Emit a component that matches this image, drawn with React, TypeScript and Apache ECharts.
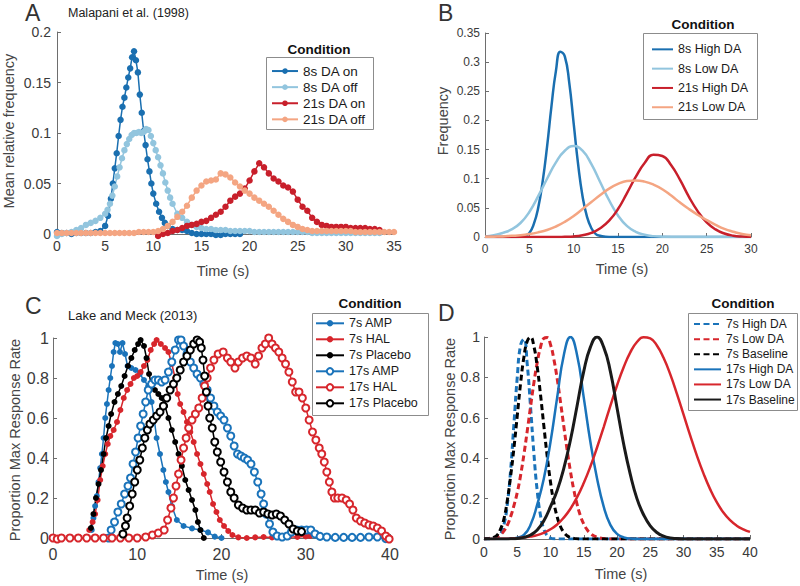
import React, { useEffect, useRef } from "react";
import * as echarts from "echarts";

// ---------- Panel A : Malapani et al. (1998) ----------
const aOn8T = [0,0.5,1,1.5,2,2.5,3,3.5,4,4.5,5,5.3,5.6,5.8,6,6.2,6.4,6.6,6.8,7,7.2,7.4,7.6,7.8,8,8.2,8.4,8.6,8.8,9,9.2,9.4,9.6,9.8,10,10.3,10.6,10.9,11.2,11.5,12,12.5,13,13.5,14,14.5,15,15.5,16,16.5,17,17.5,18,18.5,19];
const aOn8V = [0.002,0.001,0.001,0,0.001,0.001,0.001,0.001,0.002,0.003,0.008,0.018,0.035,0.05,0.065,0.08,0.097,0.113,0.126,0.135,0.145,0.155,0.164,0.175,0.181,0.172,0.16,0.138,0.12,0.102,0.088,0.074,0.062,0.05,0.04,0.03,0.022,0.016,0.011,0.008,0.005,0.004,0.004,0.003,0.001,0,0,0,0,-0.001,-0.001,0,0,0,0];
const aOff8T = [0,0.5,1,1.5,2,2.5,3,3.5,4,4.5,5,5.25,5.5,5.75,6,6.25,6.5,6.75,7,7.25,7.5,7.75,8,8.25,8.5,8.75,9,9.25,9.5,9.75,10,10.25,10.5,10.75,11,11.25,11.5,11.75,12,12.5,13,13.5,14,14.5,15,15.5,16,16.5,17,17.5,18,18.5,19,19.5,20,20.5,21,21.5,22,22.5,23,23.5,24,24.5,25,25.5,26,26.5,27,27.5,28,28.5,29,29.5,30,30.5,31,31.5,32,32.5,33,33.5];
const aOff8V = [-0.002,0,0.001,0.002,0.004,0.006,0.009,0.011,0.013,0.016,0.02,0.024,0.03,0.038,0.047,0.057,0.066,0.075,0.083,0.089,0.094,0.098,0.1,0.1,0.101,0.1,0.101,0.104,0.103,0.097,0.09,0.083,0.076,0.068,0.06,0.051,0.043,0.036,0.03,0.02,0.016,0.012,0.009,0.007,0.006,0.005,0.005,0.004,0.004,0.004,0.003,0.003,0.003,0.003,0.003,0.002,0.002,0.002,0.002,0.002,0.002,0.002,0.002,0.002,0.002,0.002,0.002,0.001,0.001,0.001,0.001,0.001,0.001,0.001,0.001,0.001,0.001,0.001,0.001,0.001,0.001,0.001,0.001];
const aOn21T = [10.5,11,11.5,12,12.5,13,13.5,14,14.5,15,15.5,16,16.5,17,17.5,18,18.5,19,19.5,20,20.5,21,21.5,22,22.5,23,23.5,24,24.5,25,25.5,26,26.5,27,27.5,28,28.5,29,29.5,30,30.5,31,31.5,32,32.5,33,33.5];
const aOn21V = [-0.002,0,0.001,0.003,0.004,0.006,0.008,0.009,0.01,0.012,0.013,0.016,0.019,0.022,0.027,0.033,0.037,0.04,0.045,0.053,0.062,0.07,0.066,0.06,0.055,0.052,0.048,0.046,0.042,0.034,0.027,0.023,0.016,0.012,0.009,0.008,0.007,0.007,0.007,0.007,0.006,0.006,0.006,0.006,0.005,0.005,0.004];
const aOff21T = [0,0.5,1,1.5,2,2.5,3,3.5,4,4.5,5,5.5,6,6.5,7,7.5,8,8.5,9,9.5,10,10.5,11,11.5,12,12.5,13,13.5,14,14.5,15,15.5,16,16.5,17,17.5,18,18.5,19,19.5,20,20.5,21,21.5,22,22.5,23,23.5,24,24.5,25,25.5,26,26.5,27,27.5,28,28.5,29,29.5,30,30.5,31,31.5,32,32.5,33,33.5,34,34.5,35];
const aOff21V = [0.001,0.001,0.001,0.001,0.001,0.001,0.001,0.001,0.001,0.001,0.001,0.001,0.001,0.001,0.001,0.001,0.001,0.002,0.002,0.002,0.002,0.003,0.005,0.008,0.012,0.017,0.022,0.028,0.036,0.043,0.048,0.052,0.053,0.054,0.06,0.059,0.056,0.051,0.047,0.043,0.04,0.036,0.033,0.03,0.027,0.023,0.019,0.015,0.012,0.009,0.007,0.005,0.004,0.003,0.003,0.003,0.003,0.003,0.003,0.003,0.003,0.003,0.002,0.002,0.002,0.002,0.002,0.002,0.002,0.002,0.002];

// ---------- Panel B ----------
const bHigh8T = [0,1,2,3,4,4.5,5,5.5,6,6.5,7,7.5,8,8.5,9,9.5,10,10.5,11,11.5,12,12.5,13,14,15,16,17,18,19,20,22,24,26,28,30];
const bHigh8V = [0,0,0,0,0.0005,0.002,0.007,0.022,0.05,0.095,0.155,0.225,0.285,0.318,0.31,0.265,0.195,0.125,0.07,0.035,0.015,0.005,0.002,0,0,0,0,0,0,0,0,0,0,0,0];
const bT = [0,1,2,3,4,5,6,7,8,9,10,11,12,13,14,15,16,17,18,19,20,21,22,23,24,25,26,27,28,29,30];
const bLow8V = [0.001,0.003,0.007,0.013,0.024,0.043,0.07,0.1,0.128,0.148,0.156,0.148,0.125,0.094,0.063,0.037,0.019,0.009,0.004,0.0015,0.0005,0,0,0,0,0,0,0,0,0,0];
const bHigh21V = [0,0,0,0,0,0,0,0,0,0.0004,0.001,0.003,0.007,0.015,0.028,0.048,0.075,0.103,0.127,0.141,0.139,0.123,0.098,0.069,0.044,0.025,0.013,0.006,0.0023,0.0008,0.0003];
const bLow21V = [0.0003,0.0006,0.001,0.002,0.003,0.005,0.008,0.012,0.018,0.026,0.036,0.048,0.06,0.072,0.083,0.091,0.096,0.097,0.095,0.09,0.082,0.071,0.059,0.048,0.038,0.029,0.021,0.014,0.009,0.005,0.003];

// ---------- Panel C : Lake and Meck (2013) ----------
const c7AmpT = [4.6,4.8,5.0,5.2,5.4,5.6,5.8,6.0,6.2,6.4,6.6,6.8,7.0,7.2,7.4,7.7,7.95,8.25,8.55,8.85,9.3,9.8,10.3,10.8,11.3,11.7,12.0,12.3,12.7,13.1,13.4,13.7,14.1,14.7,15.5,16.5,17.5,18.4,19.2,20.0];
const c7AmpV = [0.04,0.1,0.16,0.21,0.28,0.35,0.42,0.5,0.6,0.67,0.74,0.8,0.86,0.93,0.975,0.97,0.93,0.975,0.92,0.86,0.85,0.84,0.82,0.79,0.76,0.68,0.6,0.5,0.42,0.34,0.28,0.23,0.16,0.09,0.06,0.048,0.04,0.028,0.007,0.0];
const c7HalT = [4.3,4.7,5.0,5.3,5.6,5.9,6.2,6.5,6.8,7.2,7.6,8.0,8.4,8.8,9.2,9.6,10.0,10.4,10.8,11.2,11.6,12.0,12.3,12.8,13.3,13.7,14.1,14.5,14.8,15.1,15.5,15.9,16.3,16.7,17.1,17.5,17.9,18.3,18.6,19.0,19.4,19.8,20.3,20.8,21.3,22.0,23.0,24.0,25.0,26.0,27.0,28.0,29.0,30.0,30.5];
const c7HalV = [0.04,0.08,0.12,0.19,0.29,0.36,0.42,0.47,0.51,0.54,0.58,0.64,0.7,0.74,0.77,0.8,0.81,0.83,0.86,0.89,0.94,0.97,0.99,0.97,0.95,0.93,0.87,0.8,0.72,0.67,0.63,0.58,0.53,0.48,0.42,0.37,0.32,0.27,0.23,0.17,0.13,0.09,0.06,0.035,0.015,0.003,0.0,0.003,0.005,0.003,0.003,0.005,0.005,0.008,0.01];
const c7PlaT = [4.5,4.8,5.1,5.4,5.7,6.0,6.3,6.6,6.9,7.3,7.7,8.1,8.5,8.9,9.3,9.7,10.1,10.4,10.8,11.1,11.4,11.7,12.1,12.5,12.9,13.3,13.7,14.1,14.5,14.9,15.3,15.7,16.1,16.5,16.9,17.2,17.5,17.9];
const c7PlaV = [0.05,0.12,0.2,0.27,0.34,0.42,0.5,0.56,0.62,0.68,0.72,0.76,0.81,0.86,0.9,0.94,0.97,0.99,0.96,0.9,0.82,0.76,0.74,0.72,0.7,0.66,0.6,0.54,0.48,0.42,0.36,0.29,0.24,0.19,0.14,0.08,0.04,0.0];
const c17AmpT = [6.6,6.9,7.3,7.7,8.1,8.5,8.9,9.2,9.5,9.8,10.1,10.4,10.7,11.0,11.3,11.7,12.1,12.5,12.9,13.3,13.7,14.1,14.5,14.9,15.2,15.5,15.9,16.3,16.7,17.1,17.5,17.9,18.3,18.7,19.1,19.5,19.9,20.3,20.7,21.1,21.5,21.9,22.3,22.7,23.1,23.5,23.9,24.3,24.7,25.0,25.3,25.7,26.1,26.6,27.2,27.8,28.3,28.9,29.5,30.1,30.6,31.1,31.7,32.5,33.5,34.5,35.5,36.5,37.5,38.5,39.5];
const c17AmpV = [0.0,0.04,0.08,0.13,0.17,0.22,0.26,0.3,0.37,0.43,0.5,0.56,0.62,0.68,0.74,0.77,0.79,0.79,0.78,0.79,0.83,0.88,0.94,0.99,0.99,0.96,0.92,0.88,0.85,0.82,0.8,0.77,0.74,0.7,0.66,0.63,0.61,0.59,0.55,0.51,0.46,0.42,0.41,0.4,0.39,0.37,0.33,0.28,0.22,0.17,0.12,0.07,0.03,0.01,0.005,0.01,0.03,0.04,0.04,0.04,0.04,0.02,0.008,0.005,0.003,0.003,0.003,0.003,0.005,0.005,-0.003];
const c17HalT = [0,0.5,1,2,3,4,5,6,7,8,9,10,11,11.8,12.5,13.2,13.6,14.0,14.3,14.6,14.9,15.2,15.5,15.8,16.1,16.5,16.9,17.3,17.7,18.0,18.3,18.7,19.1,19.6,20.2,20.7,21.1,21.6,22.0,22.5,23.0,23.5,24.0,24.4,24.8,25.2,25.6,26.0,26.4,26.8,27.2,27.6,28.0,28.4,28.8,29.2,29.6,30.0,30.4,30.8,31.2,31.6,31.9,32.2,32.5,32.8,33.1,33.4,33.8,34.3,34.8,35.2,35.6,36.0,36.5,37.0,37.5,38.0,38.5,39.0,39.5,39.9];
const c17HalV = [0,-0.005,0,0,0,0,0,0,0,0,0,0,0.005,0.015,0.025,0.04,0.09,0.15,0.2,0.26,0.32,0.39,0.45,0.5,0.55,0.59,0.62,0.65,0.7,0.76,0.8,0.85,0.89,0.92,0.93,0.9,0.88,0.85,0.88,0.9,0.91,0.9,0.87,0.91,0.95,0.97,1.0,0.97,0.95,0.93,0.9,0.87,0.83,0.78,0.73,0.73,0.7,0.65,0.59,0.53,0.49,0.45,0.42,0.38,0.33,0.28,0.23,0.2,0.2,0.2,0.19,0.17,0.14,0.1,0.085,0.075,0.065,0.06,0.05,0.035,0.01,-0.005];
const c17PlaT = [8.3,8.6,8.8,9.1,9.4,9.7,10.0,10.3,10.6,10.9,11.2,11.5,11.9,12.3,12.7,13.1,13.5,13.9,14.3,14.7,15.1,15.5,15.9,16.3,16.7,17.1,17.4,17.6,17.8,18.0,18.2,18.4,18.6,18.9,19.2,19.5,19.9,20.3,20.7,21.1,21.5,22.0,22.5,23.0,23.5,24.0,24.5,25.0,25.5,26.0,26.5,27.0,27.5,28.0,28.5,29.0,29.5];
const c17PlaV = [0.02,0.06,0.1,0.16,0.22,0.28,0.34,0.39,0.45,0.5,0.54,0.57,0.59,0.61,0.63,0.66,0.7,0.74,0.77,0.8,0.84,0.88,0.91,0.94,0.97,0.99,0.98,0.95,0.89,0.81,0.73,0.66,0.6,0.55,0.48,0.43,0.38,0.33,0.28,0.23,0.2,0.165,0.15,0.14,0.14,0.14,0.125,0.13,0.12,0.115,0.12,0.11,0.09,0.07,0.045,0.035,0.032];

// ---------- Panel D ----------
const dT7 = [0,0.5,1,1.5,2,2.5,3,3.5,4,4.5,5,5.5,6,6.5,7,7.5,8,8.5,9,9.5,10,10.5,11,11.5,12,12.5,13,13.5,14,14.5,15,15.5,16,16.5,17,17.5,18,18.5,19,19.5,20,22,24,26,28,30,32,34,36,38,40];
const d7HighV = [0,0,0.001,0.003,0.008,0.025,0.07,0.17,0.34,0.57,0.8,0.96,0.99,0.865,0.653,0.425,0.239,0.116,0.048,0.017,0.005,0.001,0,0,0,0,0,0,0,0,0,0,0,0,0,0,0,0,0,0,0,0,0,0,0,0,0,0,0,0,0];
const d7LowV = [0.001,0.002,0.004,0.007,0.012,0.022,0.04,0.068,0.11,0.165,0.23,0.315,0.418,0.534,0.655,0.772,0.873,0.95,0.993,0.997,0.962,0.891,0.794,0.679,0.558,0.441,0.335,0.244,0.171,0.115,0.074,0.046,0.028,0.016,0.009,0.005,0.002,0.001,0,0,0,0,0,0,0,0,0,0,0,0,0];
const d7BaseV = [0.001,0.002,0.003,0.008,0.02,0.05,0.1,0.19,0.31,0.45,0.61,0.77,0.9,0.979,0.999,0.954,0.853,0.714,0.56,0.411,0.282,0.182,0.11,0.062,0.033,0.016,0.007,0.003,0.001,0,0,0,0,0,0,0,0,0,0,0,0,0,0,0,0,0,0,0,0,0,0];
const dT17 = [0,1,2,3,4,5,6,7,8,9,10,11,12,13,14,15,16,17,18,19,20,21,22,23,24,25,26,27,28,29,30,31,32,33,34,35,36,37,38,39,40];
const d17HighV = [0,0,0,0,0.002,0.006,0.02,0.07,0.17,0.3,0.48,0.7,0.91,1,0.91,0.7,0.48,0.3,0.16,0.07,0.025,0.008,0.002,0,0,0,0,0,0,0,0,0,0,0,0,0,0,0,0,0,0];
const d17LowV = [0,0,0.001,0.001,0.002,0.004,0.007,0.012,0.019,0.031,0.048,0.072,0.106,0.15,0.207,0.277,0.359,0.453,0.554,0.659,0.76,0.85,0.924,0.975,0.999,0.993,0.958,0.897,0.816,0.72,0.617,0.513,0.414,0.325,0.247,0.182,0.131,0.093,0.066,0.048,0.035];
const d17BaseV = [0,0,0,0,0.001,0.003,0.008,0.02,0.045,0.09,0.16,0.24,0.35,0.49,0.66,0.83,0.95,1,0.95,0.83,0.65,0.47,0.32,0.2,0.12,0.065,0.032,0.014,0.005,0.002,0,0,0,0,0,0,0,0,0,0,0];

// ---------- styling ----------
const FONT = '"Liberation Sans", Arial, Helvetica, sans-serif';
const TXT = "#3a3a3a";
const NAME = "#454545";
const AX = "#6e6e6e";
const A_DBLUE = "#1a6fb0";
const A_LBLUE = "#92c5de";
const A_RED = "#c81f2b";
const A_SALMON = "#f4a582";
const C_BLUE = "#1a73ba";
const C_RED = "#d7262c";
const C_BLACK = "#000000";

const zip = (t: number[], v: number[]) => t.map((x, i) => [x, v[i]]);

const axisCommon = (fs: number, margin: number) => ({
  axisLine: { show: true, onZero: false, lineStyle: { color: AX, width: 1 } },
  axisTick: { show: true, inside: true, length: 4, lineStyle: { color: AX } },
  axisLabel: { fontSize: fs, color: TXT, fontFamily: FONT, margin, fontWeight: "normal" },
  splitLine: { show: false },
});
const mkX = (gi: number, max: number, interval: number, fs: number, margin: number) => ({
  type: "value", gridIndex: gi, min: 0, max, interval, ...axisCommon(fs, margin),
});
const mkY = (gi: number, max: number, interval: number, fs: number, margin: number) => ({
  type: "value", gridIndex: gi, min: 0, max, interval, ...axisCommon(fs, margin),
});

const dotLine = (name: string, t: number[], v: number[], color: string, gi: number, sym: string, size: number) => ({
  type: "line", name, xAxisIndex: gi, yAxisIndex: gi, data: zip(t, v),
  symbol: sym, symbolSize: size, showSymbol: true, clip: false,
  lineStyle: { color, width: 1.5 },
  itemStyle: { color, borderColor: color, borderWidth: sym === "emptyCircle" ? 1.5 : 0 },
});
const curve = (name: string, t: number[], v: number[], color: string, gi: number, width: number, dashed: boolean) => ({
  type: "line", name, xAxisIndex: gi, yAxisIndex: gi, data: zip(t, v),
  symbol: "none", smooth: 0.5, clip: true,
  lineStyle: { color, width, type: dashed ? [6, 3.5] : "solid", cap: "butt" },
  itemStyle: { color },
});

const legendBase = (data: string[], left: number, top: number, iw: number, ih: number, fs: number, lh: number, extra: any = {}) => ({
  data, orient: "vertical", left, top, itemWidth: iw, itemHeight: ih, itemGap: 0,
  padding: 0, selectedMode: false, z: 20,
  textStyle: { fontSize: fs, lineHeight: lh, color: "#1a1a1a", fontFamily: FONT },
  ...extra,
});

const txt = (text: string, x: number, y: number, size: number, align: string, weight = "normal", fill = "#222", rotation = 0) => ({
  type: "text", x, y, z: 30, rotation,
  style: {
    text, fill, font: `${weight} ${size}px ${FONT}`,
    align, textAlign: align, verticalAlign: "middle", textVerticalAlign: "middle",
  },
});
const box = (x: number, y: number, w: number, h: number) => ({
  type: "rect", z: 10,
  shape: { x: x + 0.5, y: y + 0.5, width: w, height: h },
  style: { fill: "#ffffff", stroke: "#8c8c8c", lineWidth: 1 },
});

const R90 = Math.PI / 2;

export default function App() {
  const ref = useRef<HTMLDivElement>(null);
  useEffect(() => {
    if (!ref.current) return;
    const chart = echarts.init(ref.current, undefined, { renderer: "svg" });
    const option: any = {
      animation: false,
      backgroundColor: "#ffffff",
      textStyle: { fontFamily: FONT },
      grid: [
        { left: 57, top: 32, width: 337, height: 202 },
        { left: 485, top: 33, width: 266, height: 204 },
        { left: 53, top: 338, width: 337, height: 200 },
        { left: 484, top: 337, width: 266, height: 202 },
      ],
      xAxis: [
        mkX(0, 35, 5, 14, 5),
        mkX(1, 30, 5, 12, 6),
        mkX(2, 40, 10, 16, 8),
        mkX(3, 40, 5, 14, 6),
      ],
      yAxis: [
        mkY(0, 0.2, 0.05, 14, 6),
        mkY(1, 0.35, 0.05, 12, 5),
        mkY(2, 1, 0.2, 16, 4),
        mkY(3, 1, 0.2, 14, 4),
      ],
      legend: [
        legendBase(["8s DA on", "8s DA off", "21s DA on", "21s DA off"], 271, 63, 26, 7, 13.5, 16.1),
        legendBase(["8s High DA", "8s Low DA", "21s High DA", "21s Low DA"], 651, 39.7, 21, 8, 12.5, 19.3, { itemStyle: { opacity: 0 } }),
        legendBase(["7s AMP", "7s HAL", "7s Placebo", "17s AMP", "17s HAL", "17s Placebo"], 315, 315.3, 28, 8, 12.5, 16),
        legendBase(["7s High DA", "7s Low DA", "7s Baseline", "17s High DA", "17s Low DA", "17s Baseline"], 693, 316.5, 27, 8, 12, 15.1, { itemStyle: { opacity: 0 } }),
      ],
      graphic: [
        box(266, 57, 107, 72),
        box(643, 33, 114, 86),
        box(312, 313, 116, 102),
        box(688, 313, 109, 97),
        txt("A", 25, 12.5, 23, "left", "normal", "#333"),
        txt("B", 438, 12.5, 23, "left", "normal", "#333"),
        txt("C", 25, 306, 23, "left", "normal", "#333"),
        txt("D", 438, 313, 23, "left", "normal", "#333"),
        txt("Malapani et al. (1998)", 68, 13, 12.5, "left"),
        txt("Lake and Meck (2013)", 68, 315, 13, "left"),
        txt("Condition", 319, 49, 13.5, "center", "bold", "#111"),
        txt("Condition", 703, 24, 13.5, "center", "bold", "#111"),
        txt("Condition", 370, 303, 13.5, "center", "bold", "#111"),
        txt("Condition", 743, 303, 13.5, "center", "bold", "#111"),
        // axis titles
        txt("Time (s)", 223, 270.5, 14.5, "center", "normal", NAME),
        txt("Time (s)", 622, 268.5, 14.5, "center", "normal", NAME),
        txt("Time (s)", 222, 575, 14.5, "center", "normal", NAME),
        txt("Time (s)", 621, 573.5, 14.5, "center", "normal", NAME),
        txt("Mean relative frequency", 8.5, 131, 14.5, "center", "normal", NAME, R90),
        txt("Frequency", 443, 121, 14.5, "center", "normal", NAME, R90),
        txt("Proportion Max Response Rate", 15, 440, 14.5, "center", "normal", NAME, R90),
        txt("Proportion Max Response Rate", 450, 439, 14.5, "center", "normal", NAME, R90),
      ],
      series: [
        dotLine("8s DA on", aOn8T, aOn8V, A_DBLUE, 0, "circle", 6.5),
        dotLine("8s DA off", aOff8T, aOff8V, A_LBLUE, 0, "circle", 6.5),
        dotLine("21s DA on", aOn21T, aOn21V, A_RED, 0, "circle", 6.5),
        dotLine("21s DA off", aOff21T, aOff21V, A_SALMON, 0, "circle", 6.5),

        curve("8s High DA", bHigh8T, bHigh8V, A_DBLUE, 1, 2.5, false),
        curve("8s Low DA", bT, bLow8V, A_LBLUE, 1, 2.5, false),
        curve("21s High DA", bT, bHigh21V, A_RED, 1, 2.5, false),
        curve("21s Low DA", bT, bLow21V, A_SALMON, 1, 2.5, false),

        dotLine("7s AMP", c7AmpT, c7AmpV, C_BLUE, 2, "circle", 6),
        dotLine("7s HAL", c7HalT, c7HalV, C_RED, 2, "circle", 6),
        dotLine("7s Placebo", c7PlaT, c7PlaV, C_BLACK, 2, "circle", 6),
        dotLine("17s AMP", c17AmpT, c17AmpV, C_BLUE, 2, "emptyCircle", 7),
        dotLine("17s HAL", c17HalT, c17HalV, C_RED, 2, "emptyCircle", 7),
        dotLine("17s Placebo", c17PlaT, c17PlaV, C_BLACK, 2, "emptyCircle", 7),

        curve("7s High DA", dT7, d7HighV, C_BLUE, 3, 3, true),
        curve("7s Low DA", dT7, d7LowV, C_RED, 3, 3, true),
        curve("7s Baseline", dT7, d7BaseV, C_BLACK, 3, 3, true),
        curve("17s High DA", dT17, d17HighV, C_BLUE, 3, 2.5, false),
        curve("17s Low DA", dT17, d17LowV, C_RED, 3, 2.5, false),
        curve("17s Baseline", dT17, d17BaseV, "#1a1a1a", 3, 3, false),
      ],
    };
    chart.setOption(option);
    return () => chart.dispose();
  }, []);
  return (
    <div
      ref={ref}
      style={{ position: "fixed", left: 0, top: 0, width: 800, height: 586, background: "#fff" }}
    />
  );
}
